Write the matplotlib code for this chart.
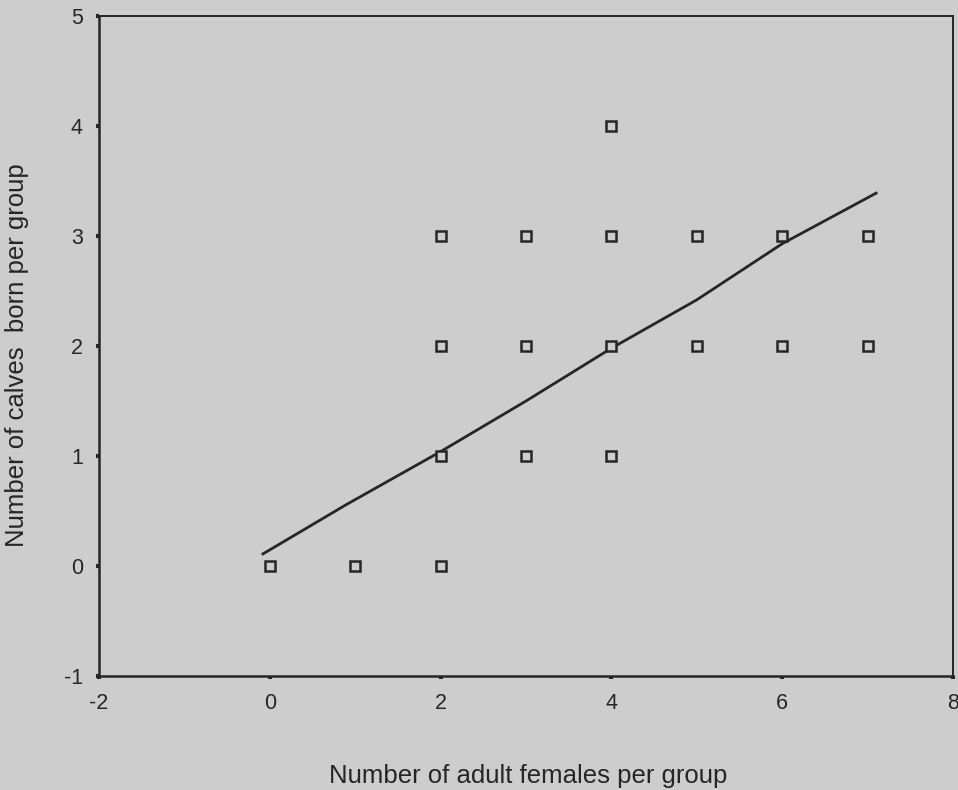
import matplotlib
matplotlib.use("Agg")
import matplotlib.pyplot as plt

# group data: adult females vs calves born
females = [0, 1, 2, 2, 2, 2, 3, 3, 3, 4, 4, 4, 4, 5, 5, 6, 6, 7, 7]
calves = [0, 0, 0, 1, 2, 3, 1, 2, 3, 1, 2, 3, 4, 2, 3, 2, 3, 2, 3]

# trend line as drawn
line_x = [-0.08, 0.9, 2.0, 3.0, 4.0, 5.0, 6.0, 7.1]
line_y = [0.11, 0.56, 1.04, 1.5, 1.98, 2.42, 2.93, 3.39]

xticks = [-2, 0, 2, 4, 6, 8]
yticks = [-1, 0, 1, 2, 3, 4, 5]

bg = '#cdcdcd'
ink = '#262626'

plt.rcParams['font.family'] = ['Liberation Sans', 'DejaVu Sans']
plt.rcParams['axes.unicode_minus'] = False

fig = plt.figure(figsize=(9.58, 7.9), dpi=100, facecolor=bg)
ax = fig.add_axes([0.1033, 0.1443, 0.8915, 0.8354])
ax.set_facecolor(bg)

ax.plot(line_x, line_y, color=ink, lw=2, zorder=2)
ax.plot(females, calves, linestyle='none', marker='s', markersize=7,
        markerfacecolor=bg, markeredgecolor=ink, markeredgewidth=1.8, zorder=3)

ax.set_xlim(-2, 8)
ax.set_ylim(-1, 5)
ax.set_xticks(xticks)
ax.set_yticks(yticks)
ax.tick_params(direction='out', length=2.5, width=3, color=ink,
               labelsize=15.5, labelcolor=ink)
ax.tick_params(axis='y', pad=9)
ax.tick_params(axis='x', pad=10)

for side in ['left', 'bottom']:
    ax.spines[side].set_linewidth(1.8)
    ax.spines[side].set_color(ink)
for side in ['top', 'right']:
    ax.spines[side].set_linewidth(1.4)
    ax.spines[side].set_color(ink)

ax.set_xlabel('Number of adult females per group', fontsize=18.5, color=ink)
ax.xaxis.set_label_coords(0.503, -0.133)
ax.set_ylabel('Number of calves  born per group', fontsize=18.5, color=ink)
ax.yaxis.set_label_coords(-0.082, 0.486)

fig.savefig('out.png', dpi=100, facecolor=bg)
